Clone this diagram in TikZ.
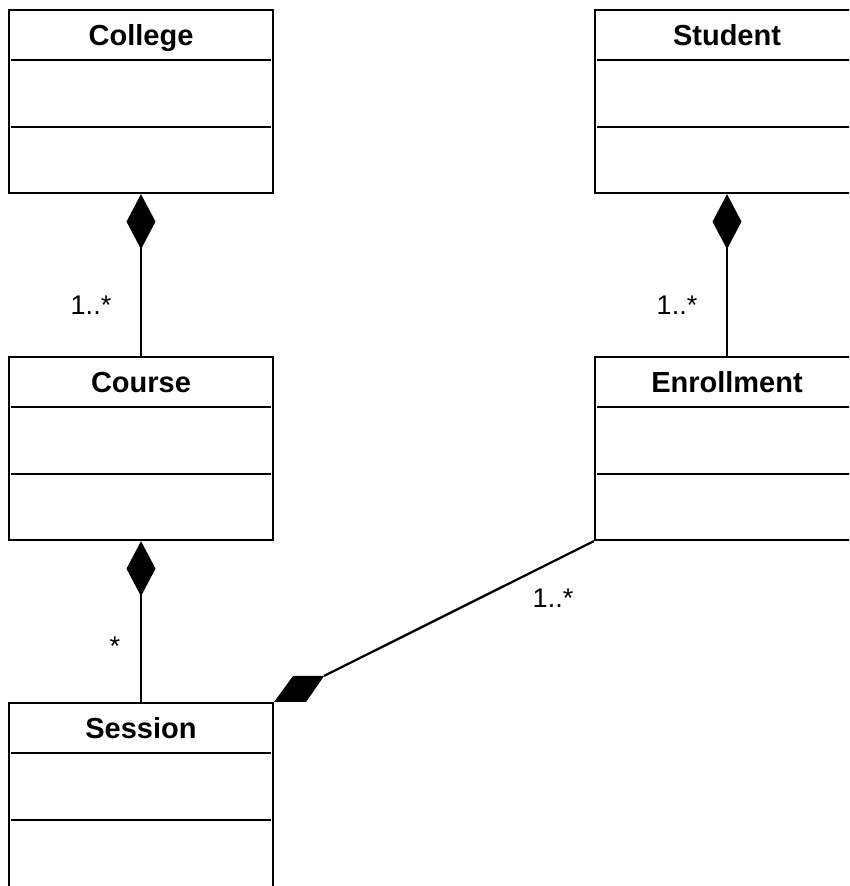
\documentclass[tikz,border=0pt]{standalone}
\usepackage{fontspec}
\setmainfont{Liberation Sans}
\usetikzlibrary{calc,arrows.meta}
\begin{document}
\begin{tikzpicture}[x=1pt,y=1pt,
  classbox/.style={draw=black,line width=2.3pt,fill=white,rectangle,
    minimum width=264pt,minimum height=183pt,inner sep=0pt},
  classname/.style={font=\fontsize{29}{29}\selectfont\bfseries,anchor=base,inner sep=0pt},
  divider/.style={line width=2.3pt},
  assoc/.style={line width=2.3pt},
  comp/.style={assoc,{Diamond[length=55pt,width=29pt]}-},
  mult/.style={font=\fontsize{27}{27}\selectfont,inner sep=0pt}
]
\clip (0,0) rectangle (849,-886);
\fill[white] (0,0) rectangle (849,-886);

% class boxes
\node[classbox] (college) at (141,-101.5) {};
\node[classbox] (student) at (727,-101.5) {};
\node[classbox] (course)  at (141,-448.5) {};
\node[classbox] (enroll)  at (727,-448.5) {};
\node[classbox,minimum height=193pt] (session) at (141,-799.5) {};

% names and compartments
\foreach \c/\t in {college/College,student/Student,course/Course,enroll/Enrollment,session/Session}{
  \node[classname] (\c-name) at ($(\c.north)+(0,-37)$) {\t};
  \draw[divider] ($(\c.north west)+(3,-51)$) -- ($(\c.north east)+(-3,-51)$);
  \draw[divider] ($(\c.north west)+(3,-118)$) -- ($(\c.north east)+(-3,-118)$);
}

% compositions
\draw[comp] (college.south) -- (course.north);
\draw[comp] (student.south) -- (enroll.north);
\draw[comp] (course.south) -- (session.north);

% aggregate end at Session's corner
\coordinate (agg) at ($(session.north east)+(50,26)$);
\fill (session.north east) -- ++(19,26) -- (agg) -- ++(-18,-26) -- cycle;
\draw[assoc] (enroll.south west) -- (agg);

% multiplicities
\node[mult] (m1) at (91,-305) {1..*};
\node[mult] (m2) at (677,-305) {1..*};
\node[mult] (m3) at (115,-646) {*};
\node[mult] (m4) at (553,-598) {1..*};
\end{tikzpicture}
\end{document}
